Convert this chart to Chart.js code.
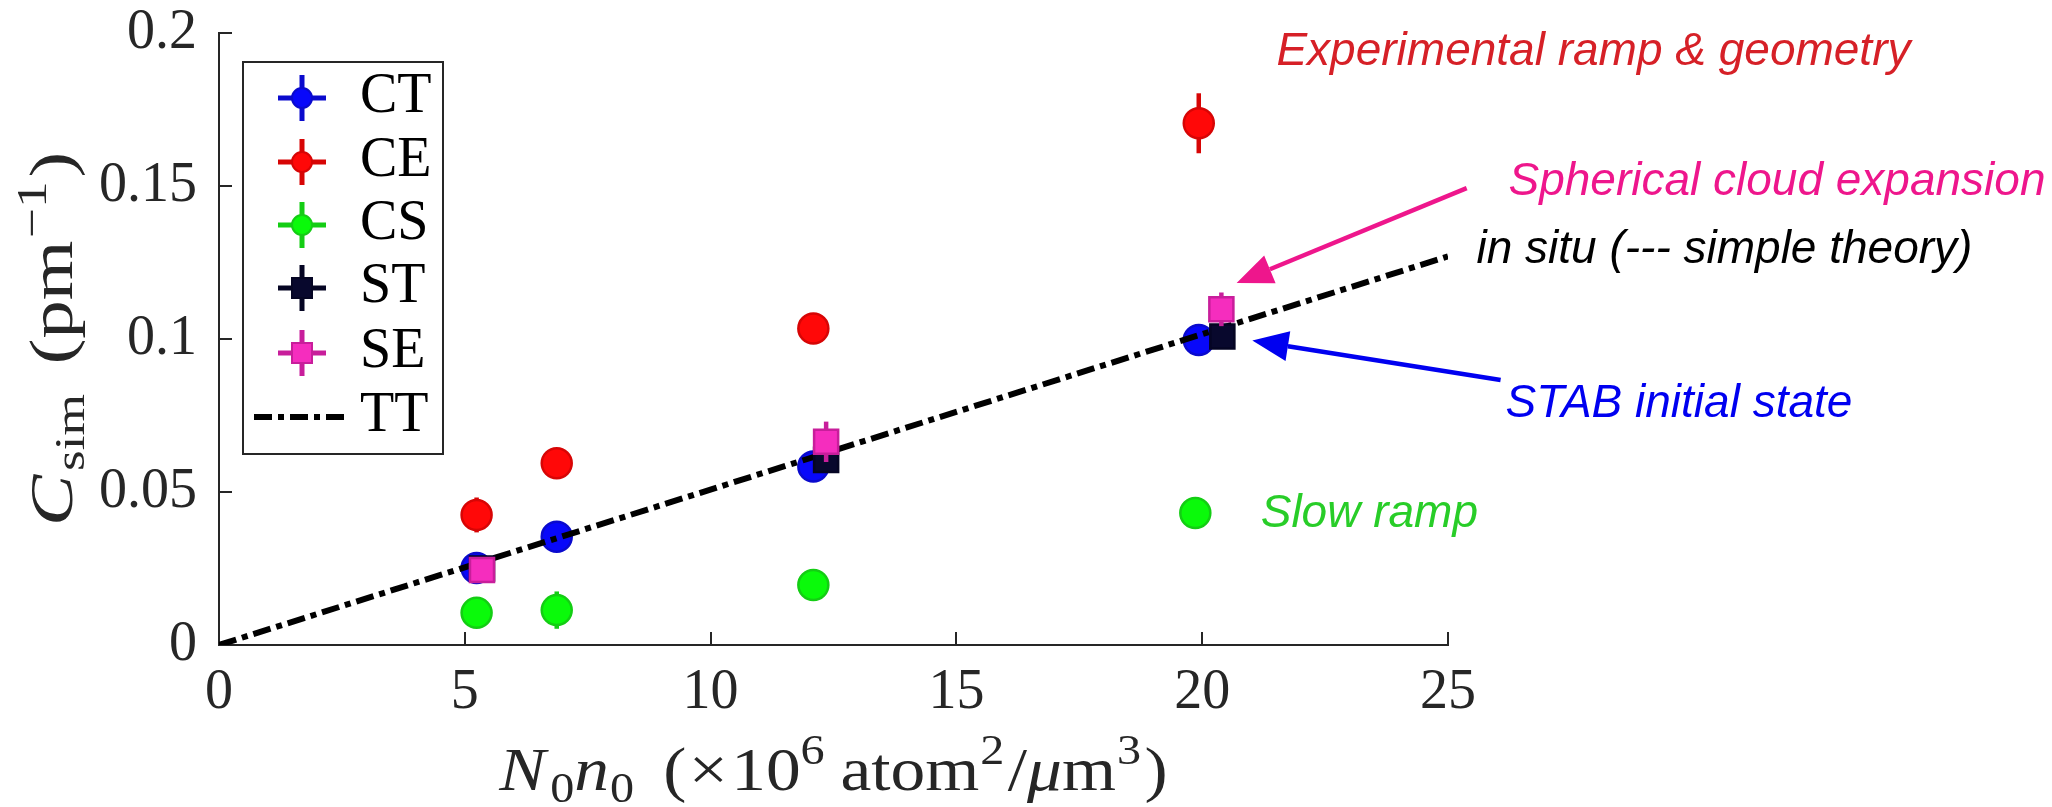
<!DOCTYPE html>
<html><head><meta charset="utf-8">
<script src="https://cdn.jsdelivr.net/npm/chart.js@4.4.0/dist/chart.umd.min.js"></script>
<style>html,body{margin:0;padding:0;background:#fff;overflow:hidden}#wrap{width:2052px;height:807px;position:relative}</style>
</head><body><div id="wrap"><canvas id="c" width="2052" height="807"></canvas></div>
<script>
// ---- data ----
const ctX = [5.24, 6.87, 12.09, 19.93];
const ctY = [0.0252, 0.0354, 0.0583, 0.0997];
const ctErr = [0.002, 0.002, 0.003, 0.003];
const ceX = [5.24, 6.87, 12.09, 19.93];
const ceY = [0.0425, 0.0594, 0.1034, 0.1705];
const ceErr = [0.0057, 0.004, 0.004, 0.0098];
const csX = [5.24, 6.87, 12.09, 19.86];
const csY = [0.0105, 0.0114, 0.0196, 0.0431];
const csErr = [0.003, 0.0061, 0.003, 0.003];
const stX = [5.35, 12.35, 20.41];
const stY = [0.0250, 0.0605, 0.1008];
const stErr = [0.002, 0.002, 0.002];
const seX = [5.35, 12.35, 20.39];
const seY = [0.0245, 0.0664, 0.1097];
const seErr = [0.002, 0.0066, 0.0055];
const ttX = [0, 25];
const ttY = [0, 0.127];
const xTickValues = [0, 5, 10, 15, 20, 25];
const xTickLabels = ['0', '5', '10', '15', '20', '25'];
const yTickValues = [0, 0.05, 0.1, 0.15, 0.2];
const yTickLabels = ['0', '0.05', '0.1', '0.15', '0.2'];
const seriesLabels = ['CT', 'CE', 'CS', 'ST', 'SE', 'TT'];

// annotations, anchored in data coordinates
const notes = [
  {text: 'Experimental ramp & geometry', x: 21.51, y: 0.1895, color: 'rgb(214,32,39)'},
  {text: 'Spherical cloud expansion', x: 26.23, y: 0.1470, color: 'rgb(238,22,140)'},
  {text: 'in situ (--- simple theory)', x: 25.58, y: 0.1248, color: '#000000'},
  {text: 'STAB initial state', x: 26.17, y: 0.0745, color: 'rgb(0,0,240)'},
  {text: 'Slow ramp', x: 21.19, y: 0.0386, color: 'rgb(40,205,40)'}
];
const arrows = [
  {x0: 25.38, y0: 0.1493, x1: 20.70, y1: 0.1183, color: 'rgb(238,22,140)'},
  {x0: 26.07, y0: 0.0866, x1: 21.02, y1: 0.0995, color: 'rgb(0,0,240)'}
];

const zip = (xs, ys) => xs.map((x, i) => ({x: x, y: ys[i]}));
const AX = '#262626';
const SERIF = '"Liberation Serif", "Times New Roman", serif';
const SANS = '"Liberation Sans", Arial, sans-serif';

const styles = {
  CT: {fill: 'rgb(8,8,250)', edge: 'rgb(10,10,205)', shape: 'circle'},
  CE: {fill: 'rgb(255,8,8)', edge: 'rgb(215,5,5)', shape: 'circle'},
  CS: {fill: 'rgb(10,250,10)', edge: 'rgb(20,205,20)', shape: 'circle'},
  ST: {fill: 'rgb(8,8,45)', edge: 'rgb(5,5,35)', shape: 'rect'},
  SE: {fill: 'rgb(245,45,190)', edge: 'rgb(200,30,155)', shape: 'rect'}
};
function ds(label, xs, ys, err, order) {
  const s = styles[label];
  return {label: label, data: zip(xs, ys), err: err, order: order,
    pointStyle: s.shape, pointRadius: s.shape === 'circle' ? 15 : 17,
    backgroundColor: s.fill, borderColor: s.edge, pointBorderWidth: 2.5,
    pointHoverRadius: s.shape === 'circle' ? 15 : 17, showLine: false};
}

const errPlugin = {
  id: 'errbars',
  beforeDatasetDraw(chart, args) {
    const d = chart.data.datasets[args.index];
    if (!d.err) return;
    const c = chart.ctx, ys = chart.scales.y;
    c.save();
    c.strokeStyle = d.borderColor; c.lineWidth = 4.5; c.lineCap = 'butt';
    args.meta.data.forEach((pt, i) => {
      const v = d.data[i];
      c.beginPath();
      c.moveTo(pt.x, ys.getPixelForValue(v.y - d.err[i]));
      c.lineTo(pt.x, ys.getPixelForValue(v.y + d.err[i]));
      c.stroke();
    });
    c.restore();
  }
};

const tickPlugin = {
  id: 'inticks',
  beforeDatasetsDraw(chart) {
    const c = chart.ctx, xs = chart.scales.x, ys = chart.scales.y, a = chart.chartArea;
    c.save(); c.strokeStyle = AX; c.lineWidth = 2;
    xTickValues.forEach(v => { const px = Math.round(xs.getPixelForValue(v)) ; c.beginPath(); c.moveTo(px, a.bottom); c.lineTo(px, a.bottom - 13); c.stroke(); });
    yTickValues.forEach(v => { const py = Math.round(ys.getPixelForValue(v)); c.beginPath(); c.moveTo(a.left, py); c.lineTo(a.left + 13, py); c.stroke(); });
    c.restore();
  }
};

// rich text with sub/superscripts; stretch widens glyphs to mimic the TeX font
function drawRich(c, parts, size, x, y, stretch) {
  const fontFor = p => (p.it ? 'italic ' : '') + Math.round(p.pos === 'base' ? size : size * 0.7) + 'px ' + SERIF;
  let total = 0;
  parts.forEach(p => { c.font = fontFor(p); p.w = c.measureText(p.t).width + (p.gap || 0); total += p.w; });
  c.save();
  c.translate(x - total * stretch / 2, y);
  c.scale(stretch, 1);
  let cx = 0;
  parts.forEach(p => {
    c.font = fontFor(p);
    const dy = p.pos === 'sub' ? size * 0.2 : (p.pos === 'sup' ? -size * 0.42 : 0);
    c.fillText(p.t, cx, dy);
    cx += p.w;
  });
  c.restore();
}

const titlePlugin = {
  id: 'titles',
  afterDraw(chart) {
    const c = chart.ctx, a = chart.chartArea;
    c.save(); c.fillStyle = AX; c.textBaseline = 'alphabetic'; c.textAlign = 'left';
    const xt = [
      {t: 'N', it: true, pos: 'base', gap: 4}, {t: '0', pos: 'sub'}, {t: 'n', it: true, pos: 'base', gap: 1}, {t: '0', pos: 'sub', gap: 26},
      {t: '(', pos: 'base', gap: 2}, {t: '×', pos: 'base', gap: 3}, {t: '10', pos: 'base'}, {t: '6', pos: 'sup', gap: 14}, {t: 'atom', pos: 'base', gap: 1}, {t: '2', pos: 'sup', gap: 3},
      {t: '/', pos: 'base'}, {t: 'μ', it: true, pos: 'base'}, {t: 'm', pos: 'base', gap: 1}, {t: '3', pos: 'sup', gap: 3}, {t: ')', pos: 'base'}
    ];
    drawRich(c, xt, 62, (a.left + a.right) / 2, 790, 1.12);
    c.translate(72, (a.top + a.bottom) / 2);
    c.rotate(-Math.PI / 2);
    const yt = [
      {t: 'C', it: true, pos: 'base', gap: 3}, {t: 'sim', pos: 'sub', gap: 24}, {t: '(pm', pos: 'base', gap: 2}, {t: '−1', pos: 'sup', gap: 3}, {t: ')', pos: 'base'}
    ];
    drawRich(c, yt, 62, 0, 0, 1.24);
    c.restore();
  }
};

const legendPlugin = {
  id: 'mylegend',
  afterDraw(chart) {
    const c = chart.ctx;
    const bx = 243, by = 62, bw = 200, bh = 392;
    c.save();
    c.fillStyle = '#fff'; c.fillRect(bx, by, bw, bh);
    c.strokeStyle = AX; c.lineWidth = 2; c.strokeRect(bx, by, bw, bh);
    const rowY = [98, 162, 225, 288, 353, 417];
    c.font = '56px ' + SERIF; c.textBaseline = 'alphabetic'; c.textAlign = 'left';
    seriesLabels.forEach((lab, i) => {
      const y = rowY[i], mx = 302;
      if (lab === 'TT') {
        c.strokeStyle = '#000'; c.lineWidth = 6; c.setLineDash([18, 6, 6, 6]);
        c.beginPath(); c.moveTo(254, y); c.lineTo(350, y); c.stroke(); c.setLineDash([]);
      } else {
        const s = styles[lab];
        c.strokeStyle = s.edge; c.lineWidth = 5;
        c.beginPath(); c.moveTo(mx - 24, y); c.lineTo(mx + 24, y); c.moveTo(mx, y - 23); c.lineTo(mx, y + 23); c.stroke();
        c.fillStyle = s.fill; c.lineWidth = 2;
        c.beginPath();
        if (s.shape === 'circle') c.arc(mx, y, 10, 0, Math.PI * 2); else c.rect(mx - 10, y - 10, 20, 20);
        c.fill(); c.stroke();
      }
      c.fillStyle = '#000';
      c.fillText(lab, 360, y + 14);
    });
    c.restore();
  }
};

const notePlugin = {
  id: 'notes',
  afterDraw(chart) {
    const c = chart.ctx, xs = chart.scales.x, ys = chart.scales.y;
    c.save();
    c.font = 'italic 46px ' + SANS; c.textBaseline = 'alphabetic'; c.textAlign = 'left';
    notes.forEach(n => { c.fillStyle = n.color; c.fillText(n.text, xs.getPixelForValue(n.x), ys.getPixelForValue(n.y)); });
    arrows.forEach(ar => {
      const x0 = xs.getPixelForValue(ar.x0), y0 = ys.getPixelForValue(ar.y0);
      const x1 = xs.getPixelForValue(ar.x1), y1 = ys.getPixelForValue(ar.y1);
      const ang = Math.atan2(y1 - y0, x1 - x0), L = 36, W = 15;
      const bxp = x1 - L * Math.cos(ang), byp = y1 - L * Math.sin(ang);
      c.strokeStyle = ar.color; c.fillStyle = ar.color; c.lineWidth = 4.5;
      c.beginPath(); c.moveTo(x0, y0); c.lineTo(bxp, byp); c.stroke();
      c.beginPath(); c.moveTo(x1, y1);
      c.lineTo(bxp + W * Math.sin(ang), byp - W * Math.cos(ang));
      c.lineTo(bxp - W * Math.sin(ang), byp + W * Math.cos(ang));
      c.closePath(); c.fill();
    });
    c.restore();
  }
};

const tickFont = {family: SERIF, size: 56, lineHeight: 1.0};
new Chart(document.getElementById('c'), {
  type: 'scatter',
  data: {datasets: [
    ds('CT', ctX, ctY, ctErr, 6),
    ds('CE', ceX, ceY, ceErr, 5),
    ds('CS', csX, csY, csErr, 4),
    ds('ST', stX, stY, stErr, 2),
    ds('SE', seX, seY, seErr, 1),
    {label: 'TT', type: 'line', data: zip(ttX, ttY), order: 3, showLine: true, fill: false,
     borderColor: '#000', borderWidth: 6, borderDash: [18, 6, 6, 6], borderCapStyle: 'butt',
     pointRadius: 0, pointHoverRadius: 0, tension: 0}
  ]},
  options: {
    responsive: false, animation: false, devicePixelRatio: 1,
    layout: {autoPadding: false, padding: {top: 33, right: 604, left: 0, bottom: 0}},
    plugins: {legend: {display: false}, tooltip: {enabled: false}, title: {display: false}},
    events: [],
    scales: {
      x: {type: 'linear', min: 0, max: 25,
          afterBuildTicks: s => { s.ticks = xTickValues.map(v => ({value: v})); },
          ticks: {font: tickFont, color: AX, padding: 20, maxRotation: 0, autoSkip: false,
                  callback: (v) => xTickLabels[xTickValues.indexOf(v)]},
          grid: {display: false, drawTicks: false},
          border: {display: true, color: AX, width: 2},
          afterFit: s => { s.height = 162; s.paddingLeft = 0; s.paddingRight = 0; }},
      y: {type: 'linear', min: 0, max: 0.2,
          afterBuildTicks: s => { s.ticks = yTickValues.map(v => ({value: v})); },
          ticks: {font: tickFont, color: AX, padding: 22, autoSkip: false,
                  callback: (v) => yTickLabels[yTickValues.findIndex(t => Math.abs(t - v) < 1e-9)]},
          grid: {display: false, drawTicks: false},
          border: {display: true, color: AX, width: 2},
          afterFit: s => { s.width = 219; s.paddingTop = 0; s.paddingBottom = 0; }}
    }
  },
  plugins: [errPlugin, tickPlugin, titlePlugin, legendPlugin, notePlugin]
});
</script>
</body></html>
